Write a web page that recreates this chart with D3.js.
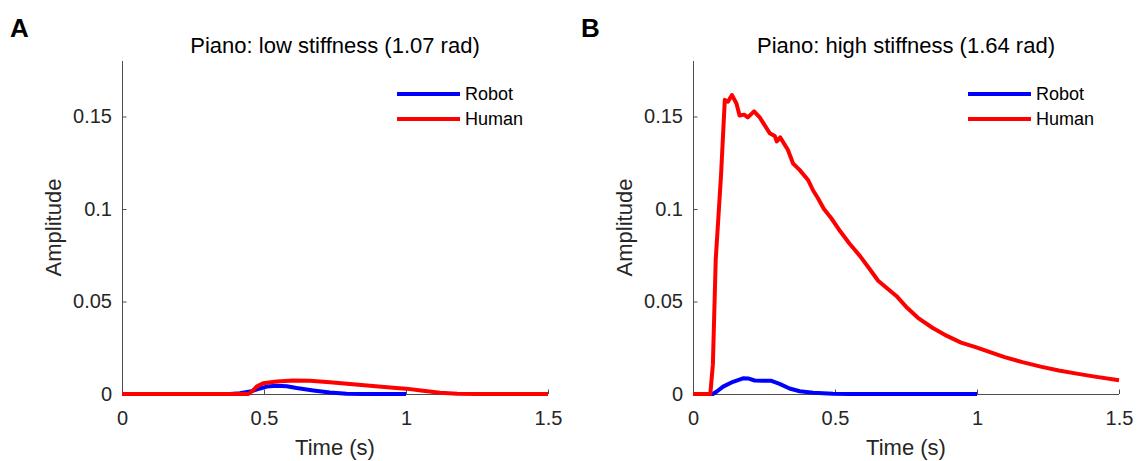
<!DOCTYPE html>
<html>
<head>
<meta charset="utf-8">
<script src="https://cdn.jsdelivr.net/npm/d3@7"></script>
<style>
  body { margin: 0; background: white; }
  text { font-family: "Liberation Sans", Arial, sans-serif; fill: #262626; }
</style>
</head>
<body>
<script>
// time (s), amplitude pairs
var lowRobot = [[0, 0], [0.38, 0], [0.415, 0.0004], [0.451, 0.0013], [0.486, 0.003], [0.51, 0.004],
  [0.545, 0.0045], [0.58, 0.0042], [0.615, 0.0032], [0.674, 0.0019], [0.732, 0.0008], [0.791, 0.0001],
  [0.85, 0], [1.0, 0]];
var lowHuman = [[0, 0], [0.445, 0], [0.462, 0.002], [0.474, 0.004], [0.497, 0.0058], [0.545, 0.0067],
  [0.603, 0.0073], [0.662, 0.0071], [0.732, 0.0064], [0.803, 0.0054], [0.873, 0.0045], [0.955, 0.0034],
  [1.0, 0.0029], [1.06, 0.0017], [1.12, 0.0007], [1.18, 0.0001], [1.25, 0], [1.5, 0]];

var highRobot = [[0, 0], [0.07, 0], [0.085, 0.0015], [0.106, 0.004], [0.141, 0.0066], [0.176, 0.0085],
  [0.194, 0.0084], [0.217, 0.0073], [0.246, 0.0071], [0.276, 0.0071], [0.305, 0.0055], [0.34, 0.003],
  [0.376, 0.0015], [0.423, 0.0007], [0.493, 0.0002], [0.55, 0], [1.0, 0]];
var highHuman = [[0, 0], [0.061, 0], [0.07, 0.016], [0.08, 0.0726], [0.099, 0.119], [0.112, 0.159],
  [0.123, 0.158], [0.137, 0.1616], [0.153, 0.157], [0.164, 0.1505], [0.18, 0.151], [0.193, 0.1495],
  [0.215, 0.1528], [0.235, 0.1495], [0.27, 0.141], [0.288, 0.1395], [0.295, 0.1365], [0.307, 0.1387],
  [0.334, 0.132], [0.352, 0.1247], [0.376, 0.121], [0.405, 0.1157], [0.423, 0.11], [0.44, 0.1058],
  [0.461, 0.1], [0.487, 0.095], [0.519, 0.0878], [0.55, 0.0815], [0.589, 0.0744], [0.62, 0.068],
  [0.652, 0.0612], [0.677, 0.058], [0.716, 0.053], [0.754, 0.0466], [0.792, 0.0412], [0.843, 0.0358],
  [0.894, 0.0314], [0.944, 0.0278], [0.995, 0.0253], [1.046, 0.0226], [1.097, 0.0199], [1.16, 0.0172],
  [1.224, 0.0148], [1.288, 0.0127], [1.351, 0.011], [1.415, 0.0094], [1.5, 0.0074]];

var xTicks = [0, 0.5, 1, 1.5];
var yTicks = [0, 0.05, 0.1, 0.15];
var seriesNames = ['Robot', 'Human'];
var seriesColors = ['#0000ff', '#ff0000'];

var panels = [
  { letter: 'A', title: 'Piano: low stiffness (1.07 rad)', left: 122, series: [lowRobot, lowHuman] },
  { letter: 'B', title: 'Piano: high stiffness (1.64 rad)', left: 693, series: [highRobot, highHuman] }
];

var svg = d3.select('body').append('svg')
  .attr('width', 1137)
  .attr('height', 461);

var plotW = 426, plotTop = 61, plotBottom = 394;
var tickLen = 4.5;

panels.forEach(function(p) {
  var x = d3.scaleLinear().domain([0, 1.5]).range([p.left, p.left + plotW]);
  var y = d3.scaleLinear().domain([0, 0.18]).range([plotBottom, plotTop]);
  var g = svg.append('g');

  // panel letter
  g.append('text')
    .attr('x', p.left - 112)
    .attr('y', 37)
    .attr('font-size', '26px')
    .attr('font-weight', 'bold')
    .style('fill', 'black')
    .text(p.letter);

  g.append('text')
    .attr('x', p.left + plotW / 2)
    .attr('y', 53)
    .attr('text-anchor', 'middle')
    .attr('font-size', '22px')
    .style('fill', 'black')
    .text(p.title);

  // axes, ticks point inward like matlab
  var xAxis = d3.axisBottom(x).tickValues(xTicks).tickSizeInner(-tickLen).tickSizeOuter(0)
    .tickFormat(d3.format('~g')).tickPadding(17);
  var yAxis = d3.axisLeft(y).tickValues(yTicks).tickSizeInner(-tickLen).tickSizeOuter(0)
    .tickFormat(d3.format('~g')).tickPadding(10);

  var gx = g.append('g').attr('transform', 'translate(0,' + plotBottom + ')').call(xAxis);
  var gy = g.append('g').attr('transform', 'translate(' + p.left + ',0)').call(yAxis);
  [gx, gy].forEach(function(a) {
    a.select('.domain').attr('stroke', '#4d4d4d').attr('stroke-width', 1);
    a.selectAll('.tick line').attr('stroke', '#4d4d4d');
    a.selectAll('.tick text').attr('font-size', '20px').attr('font-family', null).style('fill', '#262626');
  });
  gx.select('.domain').attr('d', 'M' + p.left + ',0.5H' + (p.left + plotW));
  gy.select('.domain').attr('d', 'M0.5,' + plotBottom + 'V' + plotTop);

  g.append('text')
    .attr('x', p.left + plotW / 2)
    .attr('y', 455)
    .attr('text-anchor', 'middle')
    .attr('font-size', '22px')
    .text('Time (s)');

  g.append('text')
    .attr('transform', 'translate(' + (p.left - 61) + ',' + ((plotTop + plotBottom) / 2) + ')rotate(-90)')
    .attr('text-anchor', 'middle')
    .attr('font-size', '22px')
    .text('Amplitude');

  var line = d3.line()
    .x(function(d) { return x(d[0]); })
    .y(function(d) { return y(d[1]); });

  g.selectAll('.trace')
    .data(p.series)
    .enter()
    .append('path')
    .attr('class', 'trace')
    .attr('d', line)
    .attr('fill', 'none')
    .attr('stroke', function(d, i) { return seriesColors[i]; })
    .attr('stroke-width', 4)
    .attr('stroke-linejoin', 'round');

  // legend
  var leg = g.append('g').attr('transform', 'translate(' + (p.left + 275) + ',94)');
  seriesNames.forEach(function(name, i) {
    leg.append('line')
      .attr('x1', 0).attr('x2', 63)
      .attr('y1', i * 25).attr('y2', i * 25)
      .attr('stroke', seriesColors[i])
      .attr('stroke-width', 4);
    leg.append('text')
      .attr('x', 68)
      .attr('y', i * 25)
      .attr('dy', '0.35em')
      .attr('font-size', '18px')
      .style('fill', 'black')
      .text(name);
  });
});
</script>
</body>
</html>
